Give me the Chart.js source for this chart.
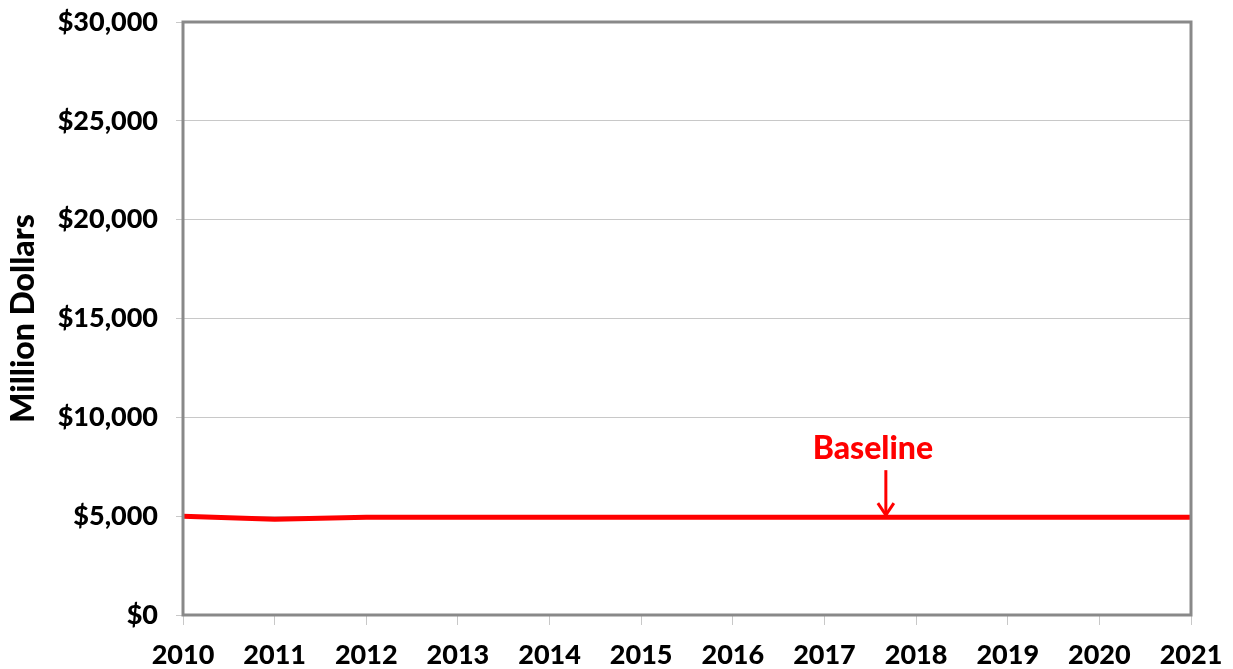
<!DOCTYPE html>
<html>
<head>
<meta charset="utf-8">
<script src="https://cdn.jsdelivr.net/npm/chart.js@4/dist/chart.umd.min.js"></script>
<style>
  html, body { margin: 0; padding: 0; background: #fff; }
  #wrap { width: 1233px; height: 669px; position: relative; }
</style>
</head>
<body>
<div id="wrap"><canvas id="myChart"></canvas></div>
<script>
// Datos del gráfico
var years = ["2010", "2011", "2012", "2013", "2014", "2015", "2016", "2017", "2018", "2019", "2020", "2021"];
var baseline = [5000, 4850, 4950, 4950, 4950, 4950, 4950, 4950, 4950, 4950, 4950, 4950];
var yTicks = [0, 5000, 10000, 15000, 20000, 25000, 30000];
var labelText = "Baseline";
var labelAt = 7.67; // posición (índice de año) de la flecha

var fontFamily = "Lato, 'Noto Sans', sans-serif";

// Marco gris alrededor del área del gráfico y la etiqueta con flecha
var marcoPlugin = {
  id: "marco",
  afterDatasetsDraw: function (chart) {
    var c = chart.ctx;
    var a = chart.chartArea;
    var xs = chart.scales.x, ys = chart.scales.y;
    c.save();
    c.strokeStyle = "#898989";
    c.lineWidth = 3;
    c.strokeRect(a.left, a.top, a.right - a.left, a.bottom - a.top);

    var ax = xs.getPixelForValue(labelAt);
    var yLine = ys.getPixelForValue(baseline[7]);
    c.fillStyle = "#ff0000";
    c.strokeStyle = "#ff0000";
    c.font = "900 32px " + fontFamily;
    c.textAlign = "center";
    c.textBaseline = "middle";
    c.fillText(labelText, ax - 13, yLine - 68);
    c.lineWidth = 3;
    c.beginPath();
    c.moveTo(ax, yLine - 47);
    c.lineTo(ax, yLine - 2);
    c.stroke();
    c.beginPath();
    c.moveTo(ax - 8, yLine - 14);
    c.lineTo(ax, yLine - 2);
    c.lineTo(ax + 8, yLine - 14);
    c.stroke();
    c.restore();
  }
};

var ctx = document.getElementById("myChart").getContext("2d");
var myChart = new Chart(ctx, {
  type: "line",
  data: {
    labels: years,
    datasets: [{
      label: labelText,
      data: baseline,
      borderColor: "#ff0000",
      borderWidth: 5,
      pointRadius: 0,
      tension: 0,
      fill: false
    }]
  },
  options: {
    responsive: true,
    maintainAspectRatio: false,
    animation: false,
    layout: { padding: { top: 22, right: 42, left: 0, bottom: 0 } },
    plugins: {
      legend: { display: false },
      tooltip: { enabled: false }
    },
    scales: {
      x: {
        offset: false,
        grid: {
          drawOnChartArea: false,
          drawTicks: true,
          tickLength: 10,
          color: "#c8c8c8",
          lineWidth: 1
        },
        border: { display: false },
        ticks: {
          color: "#000",
          padding: 14,
          maxRotation: 0,
          autoSkip: false,
          font: { family: fontFamily, size: 27, weight: "900" }
        },
        afterFit: function (scale) {
          scale.height = 54;
          scale.paddingLeft = 0;
          scale.paddingRight = 0;
        }
      },
      y: {
        min: 0,
        max: 30000,
        afterBuildTicks: function (scale) {
          scale.ticks = yTicks.map(function (v) { return { value: v }; });
        },
        grid: {
          color: "#c8c8c8",
          lineWidth: 1,
          drawTicks: true,
          tickLength: 7
        },
        border: { display: false },
        ticks: {
          color: "#000",
          padding: 18,
          font: { family: fontFamily, size: 27, weight: "900" },
          callback: function (v) { return "$" + v.toLocaleString("en-US"); }
        },
        title: {
          display: true,
          text: "Million Dollars",
          color: "#000",
          padding: { top: 4, bottom: 6 },
          font: { family: fontFamily, size: 32, weight: "900" }
        },
        afterFit: function (scale) {
          scale.width = 183;
          scale.paddingTop = 0;
          scale.paddingBottom = 0;
        }
      }
    }
  },
  plugins: [marcoPlugin]
});
</script>
</body>
</html>
